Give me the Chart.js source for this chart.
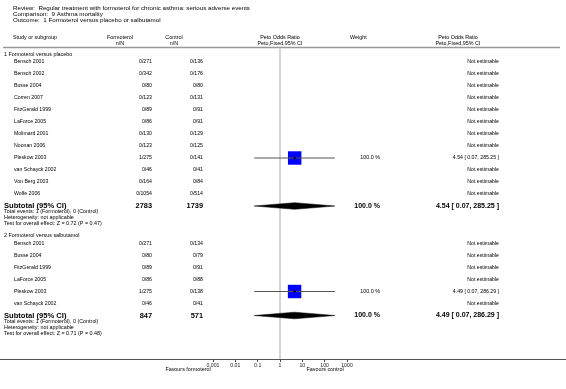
<!DOCTYPE html>
<html>
<head>
<meta charset="utf-8">
<script src="https://cdn.jsdelivr.net/npm/chart.js@4.4.0/dist/chart.umd.min.js"></script>
<style>
  html, body { margin: 0; padding: 0; background: #fff; }
  canvas { display: block; }
</style>
</head>
<body>
<canvas id="forestChart" width="566" height="389"></canvas>
<script>
// Datos del gráfico
const titleLines = [
    'Review:  Regular treatment with formoterol for chronic asthma: serious adverse events',
    'Comparison:  9 Asthma mortality',
    'Outcome:  1 Formoterol versus placebo or salbutamol'
];
const groupLabels = ['1 Formoterol versus placebo', '2 Formoterol versus salbutamol'];

const studies1 = ['Bensch 2001', 'Bensch 2002', 'Busse 2004', 'Corren 2007', 'FitzGerald 1999', 'LaForce 2005',
    'Molimard 2001', 'Noonan 2006', 'Pleskow 2003', 'van Schayck 2002', 'Von Berg 2003', 'Wolfe 2006'];
const formEvents1 = [0, 0, 0, 0, 0, 0, 0, 0, 1, 0, 0, 0];
const formTotal1 = [271, 342, 80, 123, 89, 86, 130, 123, 275, 46, 164, 1054];
const ctrlEvents1 = [0, 0, 0, 0, 0, 0, 0, 0, 0, 0, 0, 0];
const ctrlTotal1 = [136, 176, 80, 131, 91, 91, 129, 125, 141, 41, 84, 514];
const or1 = [null, null, null, null, null, null, null, null, 4.54, null, null, null];
const lo1 = [null, null, null, null, null, null, null, null, 0.07, null, null, null];
const hi1 = [null, null, null, null, null, null, null, null, 285.25, null, null, null];
const weight1 = [null, null, null, null, null, null, null, null, 100.0, null, null, null];

const studies2 = ['Bensch 2001', 'Busse 2004', 'FitzGerald 1999', 'LaForce 2005', 'Pleskow 2003', 'van Schayck 2002'];
const formEvents2 = [0, 0, 0, 0, 1, 0];
const formTotal2 = [271, 80, 89, 86, 275, 46];
const ctrlEvents2 = [0, 0, 0, 0, 0, 0];
const ctrlTotal2 = [134, 79, 91, 88, 138, 41];
const or2 = [null, null, null, null, 4.49, null];
const lo2 = [null, null, null, null, 0.07, null];
const hi2 = [null, null, null, null, 286.29, null];
const weight2 = [null, null, null, null, 100.0, null];

const subtotalFormTotal = [2783, 847];
const subtotalCtrlTotal = [1739, 571];
const subtotalOR = [4.54, 4.49];
const subtotalLo = [0.07, 0.07];
const subtotalHi = [285.25, 286.29];
const subtotalWeight = [100.0, 100.0];
const totalEventsForm = [1, 1];
const totalEventsCtrl = [0, 0];
const zValues = [0.72, 0.71];
const pValues = [0.47, 0.48];

const axisTicks = [0.001, 0.01, 0.1, 1, 10, 100, 1000];
const axisLabels = ['0.001', '0.01', '0.1', '1', '10', '100', '1000'];
const favoursLabels = ['Favours formoterol', 'Favours control'];

const groups = [
    { label: groupLabels[0], studies: studies1, fe: formEvents1, ft: formTotal1, ce: ctrlEvents1, ct: ctrlTotal1, or: or1, lo: lo1, hi: hi1, w: weight1 },
    { label: groupLabels[1], studies: studies2, fe: formEvents2, ft: formTotal2, ce: ctrlEvents2, ct: ctrlTotal2, or: or2, lo: lo2, hi: hi2, w: weight2 }
];

// Posiciones de filas (unidades del eje y)
const rows = [];
let u = 8.75;
groups.forEach((g, gi) => {
    rows.push({ u: u, type: 'group', gi: gi });
    u += 1.25;
    g.studies.forEach((s, i) => {
        rows.push({ u: u, type: 'study', gi: gi, i: i });
        u += 2;
    });
    rows.push({ u: u, type: 'subtotal', gi: gi });
    rows.push({ u: u + 1, type: 'events', gi: gi });
    rows.push({ u: u + 2, type: 'het', gi: gi });
    rows.push({ u: u + 3, type: 'test', gi: gi });
    u += 5;
});

// Construir datasets
const datasets = [];
const squares = [];
rows.forEach(r => {
    if (r.type === 'study') {
        const g = groups[r.gi];
        if (g.or[r.i] !== null) {
            datasets.push({
                data: [{ x: g.lo[r.i], y: r.u }, { x: g.hi[r.i], y: r.u }],
                borderColor: '#555', borderWidth: 1, pointRadius: 0, order: 1
            });
            squares.push({ x: g.or[r.i], y: r.u, w: g.w[r.i] });
        }
    }
    if (r.type === 'subtotal') {
        const h = 0.55;
        datasets.push({
            data: [
                { x: subtotalLo[r.gi], y: r.u },
                { x: subtotalOR[r.gi], y: r.u - h },
                { x: subtotalHi[r.gi], y: r.u },
                { x: subtotalOR[r.gi], y: r.u + h },
                { x: subtotalLo[r.gi], y: r.u }
            ],
            fill: 'shape', backgroundColor: '#000', borderColor: '#000', borderWidth: 0.5,
            pointRadius: 0, tension: 0, order: 1
        });
    }
});
datasets.push({
    data: squares.map(p => ({ x: p.x, y: p.y })),
    showLine: false, pointStyle: 'rect',
    pointRadius: squares.map(p => 9.5 * Math.sqrt(p.w / 100)),
    backgroundColor: '#0000ff', borderColor: '#0000ff', borderWidth: 0, order: 2
});
datasets.push({
    data: squares.map(p => ({ x: p.x, y: p.y })),
    showLine: false, pointStyle: 'cross', pointRadius: 1.5,
    borderColor: '#000', borderWidth: 0.8, order: 0
});

const FONT = '"Liberation Sans", Arial, sans-serif';
function txt(ctx, s, x, y, align, size, bold) {
    ctx.font = (bold ? 'bold ' : '') + size + 'px ' + FONT;
    ctx.textAlign = align;
    ctx.textBaseline = 'middle';
    ctx.fillStyle = '#000';
    ctx.fillText(s, x, y);
}
function ciText(or, lo, hi) {
    return or.toFixed(2) + ' [ ' + lo.toFixed(2) + ', ' + hi.toFixed(2) + ' ]';
}

const forestPlugin = {
    id: 'forest',
    beforeDatasetsDraw(chart) {
        const ctx = chart.ctx;
        const xs = chart.scales.x, ys = chart.scales.y;
        const x1 = Math.round(xs.getPixelForValue(1));
        ctx.save();
        ctx.strokeStyle = '#d4d4d4';
        ctx.lineWidth = 2;
        ctx.beginPath();
        ctx.moveTo(x1, ys.getPixelForValue(7.7));
        ctx.lineTo(x1, chart.chartArea.bottom);
        ctx.stroke();
        ctx.restore();
    },
    afterDraw(chart) {
        const ctx = chart.ctx;
        const xs = chart.scales.x, ys = chart.scales.y;
        const W = chart.width;
        const y = v => ys.getPixelForValue(v);
        const xMid = xs.getPixelForValue(1);
        ctx.save();

        // Títulos
        titleLines.forEach((t, i) => txt(ctx, t, 13, y(1.0 + i), 'left', 6.2, false));

        // Encabezados
        txt(ctx, 'Study or subgroup', 13, y(5.9), 'left', 5.4, false);
        txt(ctx, 'Formoterol', 120, y(5.9), 'center', 5.4, false);
        txt(ctx, 'n/N', 120, y(6.9), 'center', 5.4, false);
        txt(ctx, 'Control', 174, y(5.9), 'center', 5.4, false);
        txt(ctx, 'n/N', 174, y(6.9), 'center', 5.4, false);
        txt(ctx, 'Peto Odds Ratio', xMid, y(5.9), 'center', 5.4, false);
        txt(ctx, 'Peto,Fixed,95% CI', xMid, y(6.9), 'center', 5.4, false);
        txt(ctx, 'Weight', 350, y(5.9), 'left', 5.4, false);
        txt(ctx, 'Peto Odds Ratio', 458, y(5.9), 'center', 5.4, false);
        txt(ctx, 'Peto,Fixed,95% CI', 458, y(6.9), 'center', 5.4, false);

        ctx.strokeStyle = '#999';
        ctx.lineWidth = 1.5;
        ctx.beginPath();
        ctx.moveTo(3, y(7.6));
        ctx.lineTo(W - 6, y(7.6));
        ctx.stroke();

        rows.forEach(r => {
            const g = groups[r.gi];
            const yy = y(r.u);
            if (r.type === 'group') {
                txt(ctx, g.label, 4, yy, 'left', 5.4, false);
            } else if (r.type === 'study') {
                txt(ctx, g.studies[r.i], 14, yy, 'left', 5.2, false);
                txt(ctx, g.fe[r.i] + '/' + g.ft[r.i], 152, yy, 'right', 5.2, false);
                txt(ctx, g.ce[r.i] + '/' + g.ct[r.i], 203, yy, 'right', 5.2, false);
                if (g.or[r.i] !== null) {
                    txt(ctx, g.w[r.i].toFixed(1) + ' %', 380, yy, 'right', 5.4, false);
                    txt(ctx, ciText(g.or[r.i], g.lo[r.i], g.hi[r.i]), 499, yy, 'right', 5.2, false);
                } else {
                    txt(ctx, 'Not estimable', 499, yy, 'right', 5.2, false);
                }
            } else if (r.type === 'subtotal') {
                txt(ctx, 'Subtotal (95% CI)', 4, yy, 'left', 7.6, true);
                txt(ctx, String(subtotalFormTotal[r.gi]), 152, yy, 'right', 7.4, true);
                txt(ctx, String(subtotalCtrlTotal[r.gi]), 203, yy, 'right', 7.4, true);
                txt(ctx, subtotalWeight[r.gi].toFixed(1) + ' %', 380, yy, 'right', 7, true);
                txt(ctx, ciText(subtotalOR[r.gi], subtotalLo[r.gi], subtotalHi[r.gi]), 499, yy, 'right', 7, true);
            } else if (r.type === 'events') {
                txt(ctx, 'Total events: ' + totalEventsForm[r.gi] + ' (Formoterol), ' + totalEventsCtrl[r.gi] + ' (Control)', 4, yy, 'left', 5.4, false);
            } else if (r.type === 'het') {
                txt(ctx, 'Heterogeneity: not applicable', 4, yy, 'left', 5.4, false);
            } else if (r.type === 'test') {
                txt(ctx, 'Test for overall effect: Z = ' + zValues[r.gi].toFixed(2) + ' (P = ' + pValues[r.gi].toFixed(2) + ')', 4, yy, 'left', 5.4, false);
            }
        });

        // Eje inferior y etiquetas "Favours"
        const yb = chart.chartArea.bottom;
        ctx.strokeStyle = '#555';
        ctx.lineWidth = 1;
        ctx.beginPath();
        ctx.moveTo(0, yb + 0.5);
        ctx.lineTo(W, yb + 0.5);
        ctx.stroke();
        txt(ctx, favoursLabels[0], 188, yb + 10.5, 'center', 5.4, false);
        txt(ctx, favoursLabels[1], 325, yb + 10.5, 'center', 5.4, false);
        ctx.restore();
    }
};

const ctx = document.getElementById('forestChart').getContext('2d');
const forestChart = new Chart(ctx, {
    type: 'line',
    data: { datasets: datasets },
    options: {
        responsive: false,
        animation: false,
        layout: { autoPadding: false, padding: { left: 213, right: 219, top: 2, bottom: 0 } },
        plugins: { legend: { display: false }, tooltip: { enabled: false } },
        scales: {
            x: {
                type: 'logarithmic',
                min: 0.001,
                max: 1000,
                afterBuildTicks: s => { s.ticks = axisTicks.map(v => ({ value: v })); },
                afterFit: s => { s.height = 30; },
                grid: { drawOnChartArea: false, drawTicks: true, tickLength: 3, color: '#444' },
                border: { display: false },
                ticks: {
                    autoSkip: false, maxRotation: 0, padding: 0, color: '#222',
                    font: { size: 5.2, family: FONT },
                    callback: (v, i) => axisLabels[i]
                }
            },
            y: { type: 'linear', reverse: true, min: 0, max: 59.5, display: false }
        }
    },
    plugins: [forestPlugin]
});
</script>
</body>
</html>
